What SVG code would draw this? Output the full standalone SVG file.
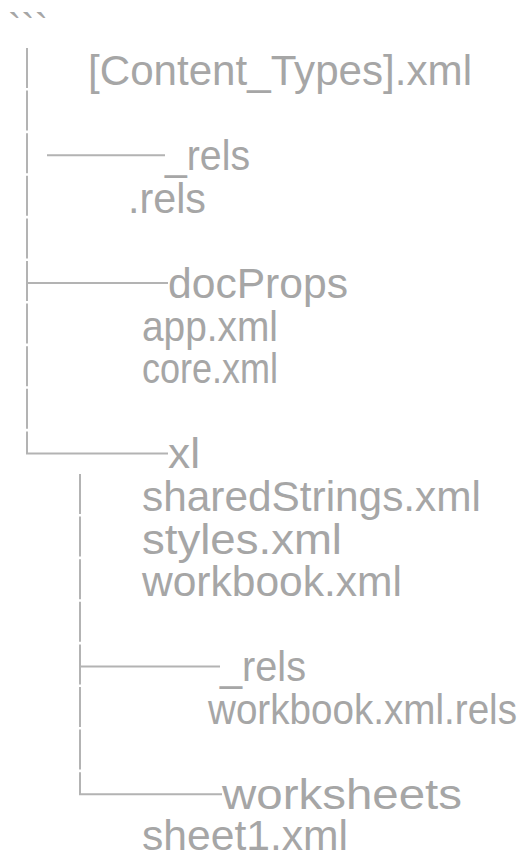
<svg xmlns="http://www.w3.org/2000/svg" width="525" height="854" viewBox="0 0 525 854">
<style>
text{font-family:"Liberation Sans",Arial,sans-serif;font-size:42px;fill:#a6a6a6}
.ln{stroke:#b3b3b3;stroke-width:2;fill:none}
</style>
<rect width="525" height="854" fill="#ffffff"/>
<g id="fence"><text x="8" y="42" style="font-size:40px">```</text></g>
<g id="content-types"><text x="88" y="85" textLength="384" lengthAdjust="spacingAndGlyphs">[Content_Types].xml</text></g>
<g id="rels-dir"><text x="165" y="170.2" textLength="85" lengthAdjust="spacingAndGlyphs">_rels</text></g>
<g id="rels-file"><text x="128" y="212.8" textLength="78" lengthAdjust="spacingAndGlyphs">.rels</text></g>
<g id="docprops"><text x="168" y="298" textLength="180" lengthAdjust="spacingAndGlyphs">docProps</text></g>
<g id="app"><text x="142" y="340.6" textLength="136" lengthAdjust="spacingAndGlyphs">app.xml</text></g>
<g id="core"><text x="142" y="383.2" textLength="136" lengthAdjust="spacingAndGlyphs">core.xml</text></g>
<g id="xl"><text x="168" y="468.4" textLength="32" lengthAdjust="spacingAndGlyphs">xl</text></g>
<g id="sharedstrings"><text x="142" y="511" textLength="339" lengthAdjust="spacingAndGlyphs">sharedStrings.xml</text></g>
<g id="styles"><text x="142" y="553.6" textLength="200" lengthAdjust="spacingAndGlyphs">styles.xml</text></g>
<g id="workbook"><text x="142" y="596.2" textLength="260" lengthAdjust="spacingAndGlyphs">workbook.xml</text></g>
<g id="xl-rels"><text x="220" y="681.4" textLength="86" lengthAdjust="spacingAndGlyphs">_rels</text></g>
<g id="workbook-rels"><text x="208" y="724" textLength="309" lengthAdjust="spacingAndGlyphs">workbook.xml.rels</text></g>
<g id="worksheets"><text x="222" y="809.2" textLength="240" lengthAdjust="spacingAndGlyphs">worksheets</text></g>
<g id="sheet1"><text x="142" y="849.5" textLength="206" lengthAdjust="spacingAndGlyphs">sheet1.xml</text></g>
<g id="connectors" class="ln">
<path d="M27 48V88M27 90.6V130.6M27 133.2V173.2M27 175.8V215.8M27 218.4V258.4M27 261V301M27 303.6V343.6M27 346.2V386.2M27 388.8V428.8M27 431.4V453.4H168"/>
<path d="M47 155.2H165M27 283H168"/>
<path d="M80 474V514M80 516.6V556.6M80 559.2V599.2M80 601.8V641.8M80 644.4V684.4M80 687V727M80 729.6V769.6M80 772.2V794.2H222M80 666.4H220"/>
</g>
</svg>
